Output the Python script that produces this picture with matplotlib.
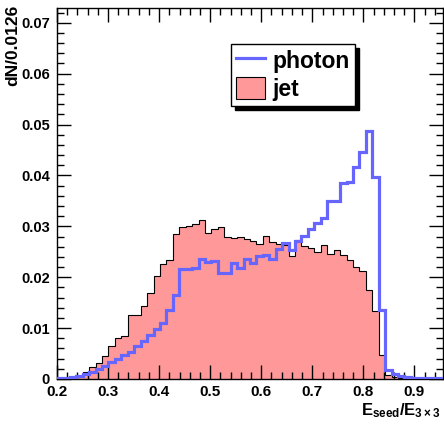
import numpy as np
import matplotlib
matplotlib.use("Agg")
import matplotlib.pyplot as plt
from matplotlib.ticker import MultipleLocator, FuncFormatter
from matplotlib.lines import Line2D
from matplotlib.patches import Patch

plt.rcParams['font.family'] = ['Liberation Sans', 'DejaVu Sans']
plt.rcParams['font.weight'] = 'bold'
plt.rcParams['mathtext.fontset'] = 'custom'
plt.rcParams['mathtext.rm'] = 'Liberation Sans:bold'
plt.rcParams['mathtext.it'] = 'Liberation Sans:bold'
plt.rcParams['mathtext.bf'] = 'Liberation Sans:bold'

# histogram binning
x_min = 0.2
bin_width = 0.0126
n_bins = 60

jet = [0.0, 0.0001, 0.0003, 0.0006, 0.0013, 0.0023, 0.0032, 0.0045, 0.0064, 0.0080,
       0.0084, 0.0125, 0.0125, 0.0143, 0.0169, 0.0203, 0.0225, 0.0233, 0.0284, 0.0299,
       0.0301, 0.0305, 0.0313, 0.0286, 0.0295, 0.0299, 0.0280, 0.0278, 0.0280, 0.0275,
       0.0271, 0.0266, 0.0281, 0.0269, 0.0266, 0.0263, 0.0242, 0.0273, 0.0262, 0.0258,
       0.0249, 0.0264, 0.0246, 0.0253, 0.0244, 0.0233, 0.0220, 0.0213, 0.0175, 0.0133,
       0.0047, 0.0007, 0.0003, 0.0001, 0.0, 0.0, 0.0, 0.0, 0.0, 0.0]

photon = [0.0001, 0.0002, 0.0004, 0.0006, 0.0010, 0.0013, 0.0019, 0.0025, 0.0033, 0.0040,
          0.0048, 0.0054, 0.0064, 0.0075, 0.0086, 0.0098, 0.0111, 0.0135, 0.0166, 0.0216,
          0.0217, 0.0219, 0.0235, 0.0229, 0.0232, 0.0209, 0.0208, 0.0228, 0.0218, 0.0235,
          0.0228, 0.0242, 0.0243, 0.0235, 0.0255, 0.0267, 0.0254, 0.0272, 0.0281, 0.0294,
          0.0306, 0.0316, 0.0350, 0.0350, 0.0386, 0.0387, 0.0416, 0.0446, 0.0487, 0.0397,
          0.0135, 0.0017, 0.0009, 0.0006, 0.0004, 0.0002, 0.0002, 0.0001, 0.0001, 0.0001]

xticks = [0.2, 0.3, 0.4, 0.5, 0.6, 0.7, 0.8, 0.9]
yticks = [0.0, 0.01, 0.02, 0.03, 0.04, 0.05, 0.06, 0.07]

edges = x_min + bin_width * np.arange(n_bins + 1)

fig = plt.figure(figsize=(4.44, 4.24), dpi=100)
ax = fig.add_axes([57/444, 1 - 379/424, (443 - 57)/444, (379 - 7.5)/424])

jet_fill = '#ff9999'
photon_col = '#6666ff'

ax.stairs(jet, edges, fill=True, color=jet_fill, zorder=1)
ax.stairs(jet, edges, color='black', lw=0.8, zorder=2)
ax.stairs(photon, edges, color=photon_col, lw=2.3, zorder=3)

ax.set_xlim(edges[0], edges[-1])
ax.set_ylim(0, 0.073)

ax.set_xticks(xticks)
ax.set_yticks(yticks)
ax.xaxis.set_minor_locator(MultipleLocator(0.02))
ax.yaxis.set_minor_locator(MultipleLocator(0.002))
ax.xaxis.set_major_formatter(FuncFormatter(lambda v, p: f'{v:.1f}'))
ax.yaxis.set_major_formatter(FuncFormatter(lambda v, p: '0' if abs(v) < 1e-9 else f'{v:.2f}'))
ax.tick_params(which='both', direction='in', top=True, right=True, width=1, color='black')
ax.tick_params(which='major', length=10)
ax.tick_params(which='minor', length=5)
ax.tick_params(axis='x', labelsize=11, pad=4)
ax.tick_params(axis='y', labelsize=10.5, pad=5)
for lab in ax.get_xticklabels() + ax.get_yticklabels():
    lab.set_fontweight('bold')
for s in ax.spines.values():
    s.set_linewidth(1)
    s.set_color('black')

# axis titles (ROOT style, at the ends of the axes)
fig.text(13/444, 1 - 5/424, 'dN/0.0126', rotation=90, ha='center', va='top',
         fontsize=12.5, fontweight='bold')
fig.text(440/444, 1 - 411/424, r'$E_{seed}/E_{3\times3}$', ha='right', va='center',
         fontsize=12)

# legend
handles = [Line2D([], [], color=photon_col, lw=2.3),
           Patch(facecolor=jet_fill, edgecolor='black', lw=0.8)]
leg = ax.legend(handles, ['photon', 'jet'], loc='upper left',
                bbox_to_anchor=((231 - 57)/386, (379 - 44)/371.5),
                prop={'weight': 'bold', 'size': 16.5}, frameon=True, fancybox=False,
                edgecolor='black', framealpha=1, borderpad=0.22, handlelength=1.25,
                handleheight=1.1, handletextpad=0.35, labelspacing=0.2,
                borderaxespad=0, shadow={'ox': 3, 'oy': -3, 'facecolor': 'black',
                                         'edgecolor': 'black', 'alpha': 1})
leg.get_frame().set_linewidth(1)

fig.savefig('out.png', dpi=100)
